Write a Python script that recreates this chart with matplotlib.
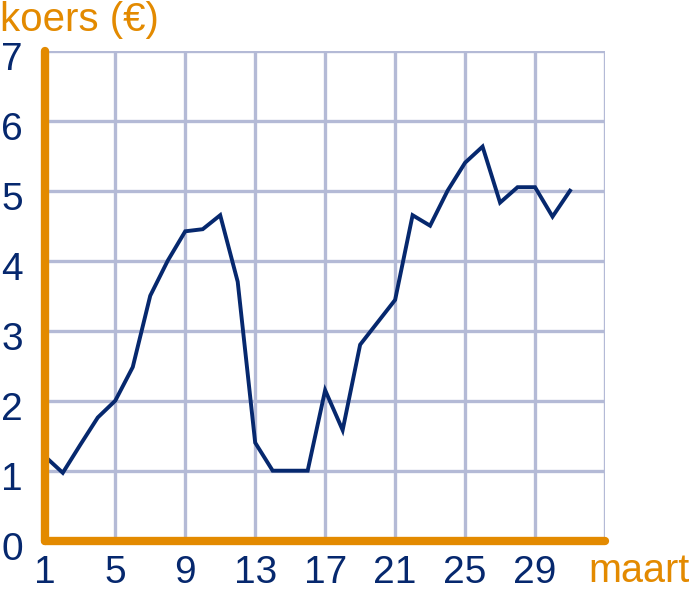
import matplotlib.pyplot as plt
import matplotlib.transforms as mtransforms

plt.rcParams['font.family'] = ['Liberation Sans', 'DejaVu Sans']

# koersverloop in maart
dagen = list(range(1, 32))
koers = [1.2, 0.97, 1.37, 1.76, 2.0, 2.48, 3.5, 4.0, 4.42, 4.45, 4.65, 3.7,
         1.4, 1.0, 1.0, 1.0, 2.15, 1.58, 2.8, 3.12, 3.44, 4.65, 4.5, 5.0,
         5.4, 5.63, 4.83, 5.05, 5.05, 4.63, 5.0]
x_ticks = list(range(1, 34, 4))
x_labels = ['1', '5', '9', '13', '17', '21', '25', '29', '']
y_ticks = list(range(0, 8))

oranje = '#e38a00'
blauw = '#06286e'
raster = '#b4bad6'

fig = plt.figure(figsize=(6.9, 5.91), dpi=100)
ax = fig.add_axes([45.3 / 690, 1 - 540.7 / 591, (605 - 45.3) / 690, 490 / 591])

ax.plot(dagen, koers, color=blauw, linewidth=2.8, solid_joinstyle='miter', zorder=3)

ax.set_xlim(1, 33)
ax.set_ylim(0, 7)
ax.set_xticks(x_ticks)
ax.set_xticklabels(x_labels)
ax.set_yticks(y_ticks)
ax.grid(True, color=raster, linewidth=2.4)
ax.set_axisbelow(True)
ax.tick_params(length=0, labelsize=28, labelcolor=blauw)
ax.tick_params(axis='y', pad=16)
ax.tick_params(axis='x', pad=10)

# cijfers iets lager zetten, zoals in het origineel
omlaag = mtransforms.ScaledTranslation(0, -4 / 72, fig.dpi_scale_trans)
for lbl in ax.get_yticklabels():
    lbl.set_verticalalignment('center_baseline')
    lbl.set_transform(lbl.get_transform() + omlaag)

for s in ['top', 'right']:
    ax.spines[s].set_visible(False)
for s in ['left', 'bottom']:
    ax.spines[s].set_color(oranje)
    ax.spines[s].set_linewidth(6)
    ax.spines[s].set_capstyle('round')
    ax.spines[s].set_zorder(4)

fig.text(0, 1 - 1 / 591, 'koers (€)', color=oranje, fontsize=29, ha='left', va='top')
fig.text(1, 1 / 591, 'maart', color=oranje, fontsize=28.5, ha='right', va='bottom')

fig.savefig('out.png', dpi=100)
